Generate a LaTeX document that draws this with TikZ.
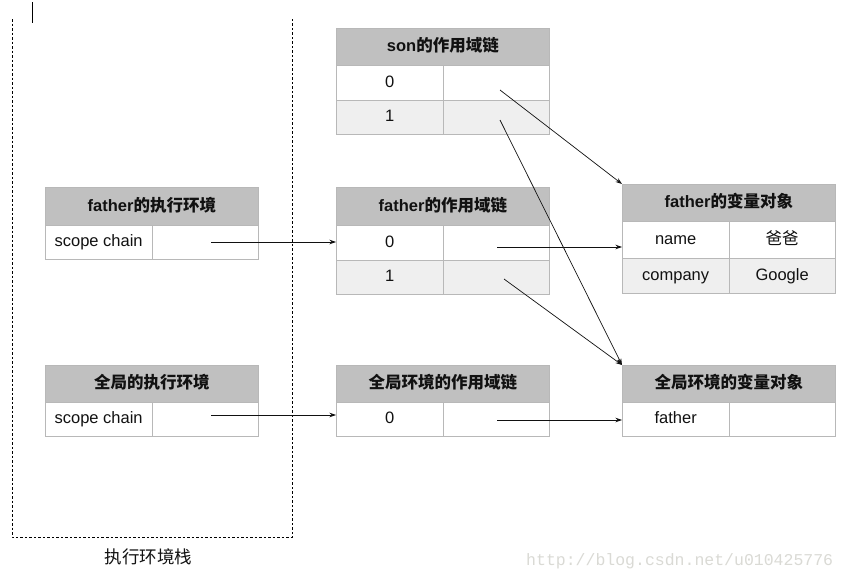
\documentclass[tikz,border=0pt]{standalone}
\usepackage{fontspec}
\setmainfont{Liberation Sans}
\newfontfamily\cjk{Noto Sans CJK SC}
\newfontfamily\wmfont{Liberation Mono}
\newcommand\zh[1]{{\cjk #1}}
\usetikzlibrary{arrows.meta}
\definecolor{hdrgray}{HTML}{C0C0C0}
\definecolor{altgray}{HTML}{EFEFEF}
\definecolor{bordergray}{HTML}{B8B8B8}
\definecolor{wmgray}{HTML}{DADAD5}
\definecolor{ink}{HTML}{111111}
\begin{document}
\begin{tikzpicture}[x=1pt,y=-1pt,
 hdr/.style={draw=bordergray, fill=hdrgray, line width=0.8pt, minimum width=213pt, minimum height=37pt, inner sep=0pt, anchor=north west, text=ink, text height=12.5pt, text depth=3pt, font=\fontsize{16.5}{18}\selectfont\bfseries},
 cell/.style={draw=bordergray, fill=white, line width=0.8pt, minimum width=106.5pt, minimum height=34pt, inner sep=0pt, anchor=north west, text=ink, text height=12pt, text depth=3pt, font=\fontsize{16.5}{18}\selectfont},
 alt/.style={cell, fill=altgray},
 ptr/.style={-{Stealth[length=6.5pt,width=4.5pt]}, line width=0.7pt, draw=ink}]
\useasboundingbox (0,0) rectangle (847,581);
\fill[white] (0,0) rectangle (847,581);

% cursor mark and stack frame
\draw[line width=1pt] (32,2) -- (32,23);
\draw[dash pattern=on 2.5pt off 2pt, line width=0.8pt] (12,19) -- (12,537) -- (292,537) -- (292,19);
\node[text=ink, font=\cjk\fontsize{17.5}{20}\selectfont] (stk) at (148.5,557) {执行环境栈};

% father execution context
\node[hdr, minimum height=38pt] (fe) at (45,187) {father\zh{的执行环境}};
\node[cell] (fe0a) at (45,225) {scope chain};
\node[cell] (fe0b) at (151.5,225) {};

% global execution context
\node[hdr] (ge) at (45,365) {\zh{全局的执行环境}};
\node[cell] (ge0a) at (45,402) {scope chain};
\node[cell] (ge0b) at (151.5,402) {};

% son scope chain
\node[hdr] (sc) at (336,28) {son\zh{的作用域链}};
\node[cell, minimum height=35pt] (sc0a) at (336,65) {0};
\node[cell, minimum height=35pt] (sc0b) at (442.5,65) {};
\node[alt] (sc1a) at (336,100) {1};
\node[alt] (sc1b) at (442.5,100) {};

% father scope chain
\node[hdr, minimum height=38pt] (fc) at (336,187) {father\zh{的作用域链}};
\node[cell, minimum height=35pt] (fc0a) at (336,225) {0};
\node[cell, minimum height=35pt] (fc0b) at (442.5,225) {};
\node[alt] (fc1a) at (336,260) {1};
\node[alt] (fc1b) at (442.5,260) {};

% global scope chain
\node[hdr] (gc) at (336,365) {\zh{全局环境的作用域链}};
\node[cell] (gc0a) at (336,402) {0};
\node[cell] (gc0b) at (442.5,402) {};

% father variable object
\node[hdr] (fv) at (622,184) {father\zh{的变量对象}};
\node[cell, minimum height=37pt] (fv0a) at (622,221) {name};
\node[cell, minimum height=37pt] (fv0b) at (728.5,221) {\zh{爸爸}};
\node[alt, minimum height=35pt] (fv1a) at (622,258) {company};
\node[alt, minimum height=35pt] (fv1b) at (728.5,258) {Google};

% global variable object
\node[hdr] (gv) at (622,365) {\zh{全局环境的变量对象}};
\node[cell] (gv0a) at (622,402) {father};
\node[cell] (gv0b) at (728.5,402) {};

% pointer start points
\coordinate (a1) at (211,242);
\coordinate (a2) at (211,415);
\coordinate (a3) at (500,90);
\coordinate (a4) at (500,120);
\coordinate (a5) at (497,247);
\coordinate (a6) at (504,279);
\coordinate (a7) at (497,420);

\draw[ptr] (a1) -- (a1 -| fc0a.west);
\draw[ptr] (a2) -- (a2 -| gc0a.west);
\draw[ptr] (a3) -- (fv.north west);
\draw[ptr] (a4) -- (gv.north west);
\draw[ptr] (a5) -- (a5 -| fv0a.west);
\draw[ptr] (a6) -- (gv.north west);
\draw[ptr] (a7) -- (a7 -| gv0a.west);

% watermark
\node[text=wmgray, font=\wmfont\fontsize{16.5}{18}\selectfont, anchor=west, inner sep=0pt] (wm) at (526,561) {http://blog.csdn.net/u010425776};
\end{tikzpicture}
\end{document}
